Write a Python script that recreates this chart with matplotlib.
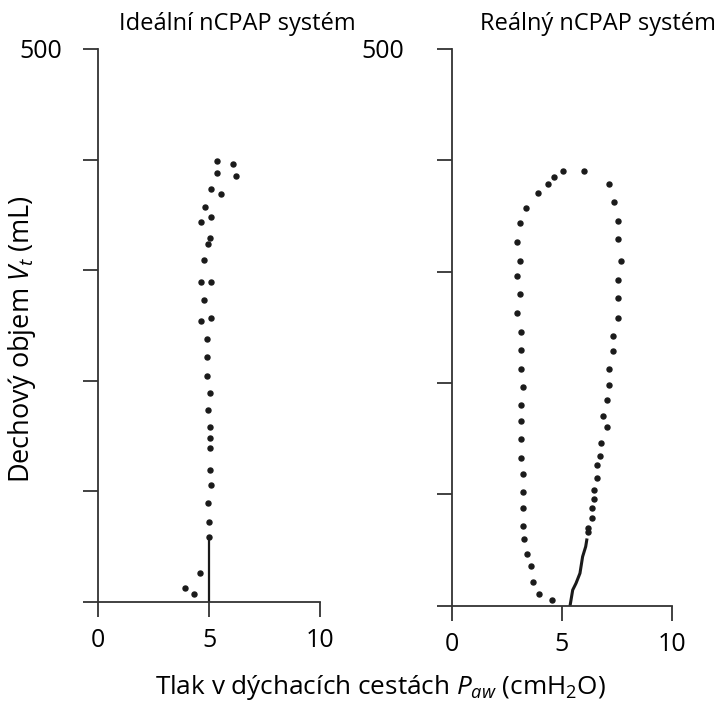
import matplotlib
matplotlib.use('Agg')
import matplotlib.pyplot as plt

plt.rcParams['font.family'] = ['Open Sans', 'DejaVu Sans']
plt.rcParams['mathtext.fontset'] = 'custom'
plt.rcParams['mathtext.rm'] = 'Open Sans'
plt.rcParams['mathtext.it'] = 'Open Sans:italic'

# ideální systém - body (tlak cmH2O, objem mL)
ideal_p = [5.36, 6.07, 5.35, 6.22, 5.08, 5.53, 4.81, 5.08, 4.64, 5.05, 4.94, 4.79,
           4.64, 5.08, 4.79, 4.64, 5.08, 4.92, 4.90, 4.92, 5.05, 4.97, 5.05, 5.05,
           5.05, 5.05, 5.08, 4.96, 5.01, 5.01, 4.59, 3.92, 4.32]
ideal_v = [398.7, 396.0, 387.9, 385.2, 373.4, 368.9, 357.4, 348.4, 343.6, 329.1, 323.7, 309.5,
           289.6, 289.6, 273.1, 254.1, 256.8, 237.8, 221.8, 204.3, 188.9, 173.6, 158.5, 148.3,
           139.2, 119.3, 105.8, 89.5, 72.6, 59.0, 26.5, 12.9, 7.2]
# spojitý úsek u dna
ideal_line_p = [5.01, 5.01]
ideal_line_v = [0, 59.0]

# reálný systém
real_line_p = [5.38, 5.50, 5.65, 5.83, 5.95, 6.09, 6.14]
real_line_v = [0, 14.1, 20.1, 29.1, 44.0, 53.0, 59.0]
real_p = [6.18, 6.18, 6.36, 6.36, 6.48, 6.48, 6.62, 6.62, 6.74, 6.79, 7.05, 6.89, 7.05,
          7.15, 7.15, 7.32, 7.32, 7.57, 7.57, 7.57, 7.68, 7.57, 7.57, 7.39, 7.15, 6.01,
          5.05, 4.65, 4.38, 3.94, 3.38, 3.10, 2.98, 3.10, 2.98, 3.10, 2.98, 3.14, 3.14,
          3.14, 3.25, 3.14, 3.14, 3.14, 3.14, 3.25, 3.25, 3.25, 3.25, 3.30, 3.44, 3.60,
          3.71, 3.98, 4.55]
real_v = [66.4, 69.5, 79.0, 87.4, 95.8, 103.9, 114.9, 126.3, 134.6, 145.8, 160.1, 170.6, 184.6,
          198.1, 212.5, 228.4, 242.4, 258.5, 276.5, 292.4, 309.4, 328.9, 345.3, 362.7, 378.5, 390.5,
          390.5, 384.6, 378.5, 370.7, 357.3, 343.3, 326.8, 309.7, 296.0, 279.5, 262.5, 245.4, 229.3,
          212.7, 196.1, 179.9, 165.8, 149.4, 132.9, 118.2, 101.8, 88.0, 71.5, 59.8, 46.4, 35.6,
          21.5, 10.5, 5.1]

x_ticks = [0, 5, 10]
y_ticks = [0, 100, 200, 300, 400, 500]
y_labels = ['', '', '', '', '', '500']

W, H = 721, 702
fig = plt.figure(figsize=(W / 100, H / 100), dpi=100)
ax1 = fig.add_axes([98 / W, 100 / H, 222 / W, 553 / H])
ax2 = fig.add_axes([451.7 / W, 96.3 / H, 220 / W, 557 / H])

axcol = '#333333'
dotcol = '#1a1a1a'

def style(ax, ypad):
    ax.set_xlim(0, 10)
    ax.set_ylim(0, 500)
    for s in ['top', 'right']:
        ax.spines[s].set_visible(False)
    for s in ['left', 'bottom']:
        ax.spines[s].set_color(axcol)
        ax.spines[s].set_linewidth(1.3)
    ax.set_xticks(x_ticks)
    ax.set_xticklabels([str(t) for t in x_ticks])
    ax.set_yticks(y_ticks)
    ax.set_yticklabels(y_labels)
    ax.tick_params(axis='both', direction='out', length=11, width=1.3, color=axcol,
                   labelsize=18, labelcolor='black')
    ax.tick_params(axis='x', pad=8)
    ax.tick_params(axis='y', pad=ypad)
    ax.patch.set_visible(False)

ax1.plot(ideal_p, ideal_v, 'o', ms=3.6, color=dotcol, clip_on=False)
ax1.plot(ideal_line_p, ideal_line_v, '-', lw=1.6, color=dotcol)
style(ax1, 15)

ax2.plot(real_p, real_v, 'o', ms=3.6, color=dotcol, clip_on=False)
ax2.plot(real_line_p, real_line_v, '-', lw=2.2, color=dotcol)
style(ax2, 23)

fig.text(237 / W, 1 - 24 / H, 'Ideální nCPAP systém', ha='center', va='center', fontsize=17)
fig.text(598 / W, 1 - 24 / H, 'Reálný nCPAP systém', ha='center', va='center', fontsize=17)
fig.text(22 / W, 1 - 339 / H, r'Dechový objem $V_t$ (mL)', rotation=90,
         ha='center', va='center', fontsize=19.5)
fig.text(380 / W, 1 - 688 / H, r'Tlak v dýchacích cestách $P_{aw}$ (cmH$_2$O)',
         ha='center', va='center', fontsize=18.8)

fig.savefig('out.png', dpi=100)
